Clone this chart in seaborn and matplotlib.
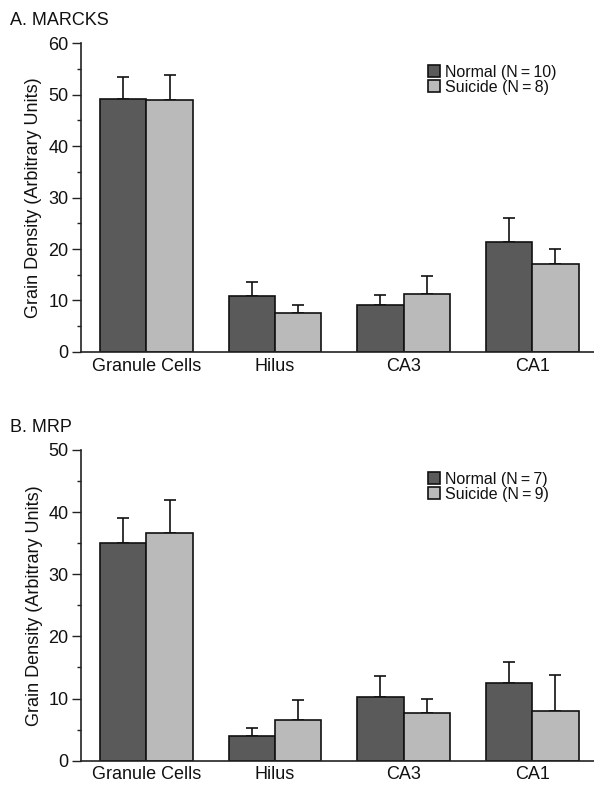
import matplotlib
matplotlib.use("Agg")
import matplotlib.pyplot as plt
import seaborn as sns
import pandas as pd
import numpy as np

regions = ["Granule Cells", "Hilus", "CA3", "CA1"]

# Panel A: MARCKS
marcks_normal = [49.2, 10.8, 9.1, 21.4]
marcks_normal_err = [4.2, 2.8, 1.9, 4.7]
marcks_suicide = [49.0, 7.6, 11.2, 17.1]
marcks_suicide_err = [4.8, 1.5, 3.6, 2.9]

# Panel B: MRP
mrp_normal = [35.1, 3.9, 10.3, 12.5]
mrp_normal_err = [3.9, 1.3, 3.4, 3.3]
mrp_suicide = [36.7, 6.55, 7.7, 8.05]
mrp_suicide_err = [5.2, 3.15, 2.2, 5.75]

colors = ["#5a5a5a", "#bababa"]


def draw_panel(ax, normal, normal_err, suicide, suicide_err, labels, title, ymax):
    df = pd.DataFrame({
        "Region": regions * 2,
        "Density": normal + suicide,
        "Group": [labels[0]] * 4 + [labels[1]] * 4,
    })
    sns.barplot(data=df, x="Region", y="Density", hue="Group", palette=colors,
                edgecolor="#111111", linewidth=1.2, errorbar=None, width=0.72,
                gap=0, saturation=1, ax=ax, zorder=2)
    for cont, errs in zip(ax.containers, [normal_err, suicide_err]):
        xs = [b.get_x() + b.get_width() / 2 for b in cont]
        hs = [b.get_height() for b in cont]
        ax.errorbar(xs, hs, yerr=[np.zeros(len(errs)), errs], fmt="none",
                    ecolor="#111111", elinewidth=1.2, capsize=4.5, capthick=1.2,
                    zorder=1)
    ax.set_ylim(0, ymax)
    ax.set_xlim(-0.51, 3.48)
    ax.set_yticks(np.arange(0, ymax + 1, 10))
    ax.set_yticks(np.arange(0, ymax + 1, 5), minor=True)
    ax.tick_params(axis="y", which="major", length=6.5, width=1, labelsize=13,
                   color="#222222", pad=2.5)
    ax.tick_params(axis="y", which="minor", length=3, width=1, color="#222222")
    ax.tick_params(axis="x", length=0, labelsize=13, pad=4)
    ax.set_xlabel("")
    ax.set_ylabel("Grain Density (Arbitrary Units)", fontsize=13, labelpad=4)
    sns.despine(ax=ax)
    for s in ["left", "bottom"]:
        ax.spines[s].set_color("#222222")
        ax.spines[s].set_linewidth(1.2)
    ax.legend(loc="upper left", bbox_to_anchor=(0.676, 0.93), frameon=False,
              fontsize=11.5, handlelength=0.75, handleheight=0.75,
              handletextpad=0.35, labelspacing=0.0, borderaxespad=0, borderpad=0)
    ax.text(-0.138, 1.045, title, transform=ax.transAxes, fontsize=13,
            ha="left", va="bottom")


sns.set_style("ticks")
plt.rcParams["font.family"] = ["Liberation Sans", "DejaVu Sans"]
plt.rcParams["text.color"] = "#111111"
plt.rcParams["axes.labelcolor"] = "#111111"
plt.rcParams["xtick.color"] = "#111111"
plt.rcParams["ytick.color"] = "#111111"

fig = plt.figure(figsize=(5.94, 7.85), dpi=100)
ax1 = fig.add_axes([0.136, 0.5516, 0.864, 0.3936])
ax2 = fig.add_axes([0.136, 0.031, 0.864, 0.3958])

draw_panel(ax1, marcks_normal, marcks_normal_err, marcks_suicide, marcks_suicide_err,
           ["Normal (N\u2009=\u200910)", "Suicide (N\u2009=\u20098)"], "A. MARCKS", 60)
draw_panel(ax2, mrp_normal, mrp_normal_err, mrp_suicide, mrp_suicide_err,
           ["Normal (N\u2009=\u20097)", "Suicide (N\u2009=\u20099)"], "B. MRP", 50)

fig.savefig("out.png", dpi=100)
